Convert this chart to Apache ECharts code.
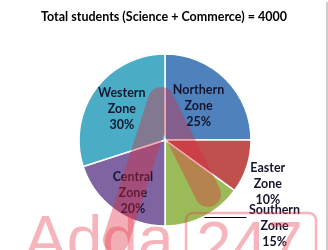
<!DOCTYPE html>
<html>
<head>
<meta charset="utf-8">
<script src="https://cdn.jsdelivr.net/npm/echarts@6/dist/echarts.min.js"></script>
<style>
html,body{margin:0;padding:0;background:#fff;}
#main{width:328px;height:250px;}
</style>
</head>
<body>
<div id="main"></div>
<script>
const titleText = 'Total students (Science + Commerce) = 4000';
const zones = ['Northern Zone', 'Eastern Zone', 'Southern Zone', 'Central Zone', 'Western Zone'];
const labelNames = ['Northern', 'Easter', 'Southern', 'Central', 'Western'];
const shares = [25, 10, 15, 20, 30];
const colors = ['#4F81BD', '#C0504D', '#9BBB59', '#8064A2', '#4BACC6'];

const font = 'Lato, "Open Sans", sans-serif';
const labelColor = '#15152e';

const itemLabel = [
  { position: 'inside', offset: [1, -2], style: 'a' },
  { position: 'inside', offset: [59, 30], style: 'b' },
  { position: 'outside', padding: [17, 0, 0, 0], style: 'a' },
  { position: 'inside', offset: [-5, 16], style: 'a' },
  { position: 'inside', offset: [-6, -4], style: 'a' }
];
const itemLine = [
  { show: false },
  { show: false },
  { show: true, length: 1, length2: 42, lineStyle: { color: '#000', width: 1 } },
  { show: false },
  { show: false }
];

const data = zones.map((z, i) => {
  const s = itemLabel[i].style;
  const lab = {
    formatter: '{' + s + '|' + labelNames[i] + '}\n{' + s + '|Zone}\n{' + s + '|' + shares[i] + '%}',
    position: itemLabel[i].position
  };
  if (itemLabel[i].offset) lab.offset = itemLabel[i].offset;
  if (itemLabel[i].padding) lab.padding = itemLabel[i].padding;
  return {
    name: z,
    value: shares[i],
    itemStyle: { color: colors[i] },
    label: lab,
    labelLine: itemLine[i]
  };
});

const richBase = { fontFamily: font, fontWeight: 'bold', fontSize: 12.5, color: labelColor, lineHeight: 16, align: 'center' };

const chart = echarts.init(document.getElementById('main'), null, { renderer: 'canvas' });
chart.setOption({
  animation: false,
  backgroundColor: '#fff',
  title: {
    text: titleText,
    left: 'center',
    top: 5,
    textStyle: { fontFamily: font, fontWeight: 'bold', fontSize: 12.5, color: '#000' }
  },
  series: [{
    type: 'pie',
    center: [165, 140],
    radius: 86,
    startAngle: 90,
    clockwise: true,
    avoidLabelOverlap: false,
    labelLayout: { hideOverlap: false },
    silent: true,
    itemStyle: { borderColor: '#fff', borderWidth: 1.5 },
    label: {
      show: true,
      color: labelColor,
      fontFamily: font,
      fontWeight: 'bold',
      fontSize: 12.5,
      distanceToLabelLine: 2,
      rich: {
        a: Object.assign({ width: 52 }, richBase),
        b: Object.assign({ width: 34 }, richBase)
      }
    },
    data: data
  }],
  graphic: [
    {
      type: 'polyline', z: 100, silent: true,
      shape: { points: [[116, 240], [161, 100], [208, 194]] },
      style: { stroke: 'rgba(220,40,60,0.38)', lineWidth: 26, lineJoin: 'round', lineCap: 'round', fill: null }
    },
    {
      type: 'text', z: 100, silent: true, left: 24, top: 211,
      style: { text: 'Adda', font: '64px "Liberation Sans", Arial, sans-serif', fill: 'rgba(232,60,80,0.38)' }
    },
    {
      type: 'rect', z: 100, silent: true,
      shape: { x: 186, y: 213, width: 130, height: 60, r: 7 },
      style: { stroke: 'rgba(232,60,80,0.38)', lineWidth: 2.5, fill: null }
    },
    {
      type: 'text', z: 100, silent: true, left: 196, top: 217,
      style: { text: '247', font: '64px "Liberation Sans", Arial, sans-serif', fill: 'rgba(232,60,80,0.38)' }
    },
    {
      type: 'line', z: 100, silent: true,
      shape: { x1: 327, y1: 2, x2: 327, y2: 250 },
      style: { stroke: '#9a9a9a', lineWidth: 1 }
    }
  ]
});
</script>
</body>
</html>
